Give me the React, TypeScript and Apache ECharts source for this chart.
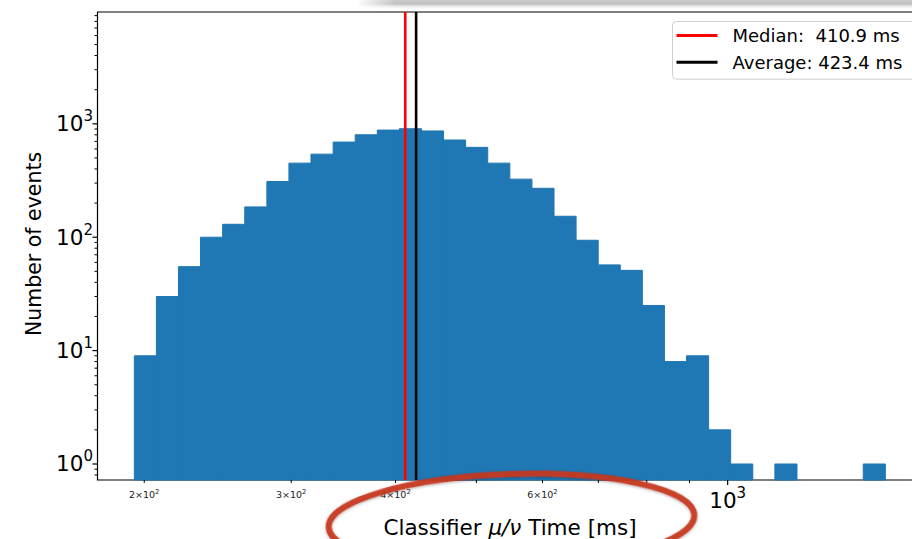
import React, { useEffect, useRef } from "react";
import * as echarts from "echarts";

// ---------- data ----------
const binEdges = [
  194.6, 206.8, 219.8, 233.6, 248.3, 263.9, 280.5, 298.1, 316.8, 336.8,
  357.9, 380.4, 404.3, 429.7, 456.7, 485.4, 515.9, 548.3, 582.8, 619.4,
  658.3, 699.7, 743.6, 790.3, 840.0, 892.8, 948.9, 1008.4, 1071.8, 1139.2,
  1210.8, 1286.9, 1367.7, 1453.7, 1545.0,
];
const binCounts = [
  9, 30, 55, 100, 130, 185, 310, 450, 540, 690,
  800, 880, 905, 865, 720, 620, 450, 325, 270, 153,
  94, 57, 51, 25, 8, 9, 2, 1, 0, 1,
  0, 0, 0, 1,
];
const medianValue = 410.9;
const averageValue = 423.4;
const legendLabels = ["Median:  410.9 ms", "Average: 423.4 ms"];

const xMajorTicks = [1000];
const xMajorExp = ["3"];
const xMinorTicks = [200, 300, 400, 500, 600, 700, 800, 900];
const xMinorLabeled = [200, 300, 400, 600];
const xMinorMantissa = ["2", "3", "4", "6"];

const yMajorTicks = [1, 10, 100, 1000];
const yMajorExp = ["0", "1", "2", "3"];
const yMinorTicks = [
  0.8, 0.9,
  2, 3, 4, 5, 6, 7, 8, 9,
  20, 30, 40, 50, 60, 70, 80, 90,
  200, 300, 400, 500, 600, 700, 800, 900,
  2000, 3000, 4000, 5000, 6000, 7000, 8000, 9000,
];

const xAxisTitle = ["Classifier ", "μ/ν", " Time [ms]"];
const yAxisTitle = "Number of events";

// axis limits
const X_MIN = 175.8;
const X_MAX = 1711.8;
const Y_MIN = 0.7226;
const Y_MAX = 9683;

const FONT = "DejaVu Sans";
const BAR = "#1f77b4";

export default function App() {
  const ref = useRef<HTMLDivElement>(null);

  useEffect(() => {
    if (!ref.current) return;
    const chart = echarts.init(ref.current, undefined, { renderer: "svg" });

    const histData = binCounts
      .map((c, i) => [binEdges[i], binEdges[i + 1], c])
      .filter((d) => d[2] > 0);

    const xTickItems = [
      ...xMajorTicks.map((v, i) => ({ v, major: true, text: `{b|10}{s|${xMajorExp[i]}}` })),
      ...xMinorTicks.map((v) => {
        const k = xMinorLabeled.indexOf(v);
        return { v, major: false, text: k >= 0 ? `{mb|${xMinorMantissa[k]}×10}{ms|2}` : "" };
      }),
    ];
    const yTickItems = [
      ...yMajorTicks.map((v, i) => ({ v, major: true, text: `{b|10}{s|${yMajorExp[i]}}` })),
      ...yMinorTicks.map((v) => ({ v, major: false, text: "" })),
    ];

    const rich = {
      b: { fontSize: 21.5, fontFamily: FONT, lineHeight: 30, fill: "#000", color: "#000" },
      s: { fontSize: 15, fontFamily: FONT, lineHeight: 15, verticalAlign: "top", fill: "#000", color: "#000" },
      mb: { fontSize: 9.5, fontFamily: FONT, lineHeight: 12, fill: "#222", color: "#222" },
      ms: { fontSize: 6.8, fontFamily: FONT, lineHeight: 6.8, verticalAlign: "top", fill: "#222", color: "#222" },
    };

    const option: any = {
      animation: false,
      backgroundColor: "#ffffff",
      grid: {
        left: 97.5,
        top: 12,
        width: 825,
        height: 468,
        show: true,
        borderColor: "#000",
        borderWidth: 1.2,
        backgroundColor: "transparent",
        containLabel: false,
      },
      xAxis: {
        type: "log",
        logBase: 10,
        min: X_MIN,
        max: X_MAX,
        axisLine: { show: false },
        axisTick: { show: false },
        axisLabel: { show: false },
        splitLine: { show: false },
        minorTick: { show: false },
      },
      yAxis: {
        type: "log",
        logBase: 10,
        min: Y_MIN,
        max: Y_MAX,
        axisLine: { show: false },
        axisTick: { show: false },
        axisLabel: { show: false },
        splitLine: { show: false },
        minorTick: { show: false },
      },
      legend: {
        show: true,
        data: legendLabels,
        orient: "vertical",
        left: 672.5,
        top: 21.5,
        icon: "rect",
        itemWidth: 41,
        itemHeight: 3,
        itemGap: 6.7,
        padding: [4, 18, 7, 4],
        backgroundColor: "#ffffff",
        borderColor: "#d0d0d0",
        borderWidth: 1,
        borderRadius: 4,
        selectedMode: false,
        textStyle: {
          fontFamily: FONT,
          fontSize: 18,
          color: "#000",
          lineHeight: 20,
          padding: [0, 0, 0, 10],
        },
      },
      series: [
        {
          type: "custom",
          name: "hist",
          z: 2,
          encode: { x: [0, 1], y: 2 },
          data: histData,
          renderItem: (params: any, api: any) => {
            const a = api.coord([api.value(0), api.value(2)]);
            const b = api.coord([api.value(1), Y_MIN]);
            return {
              type: "rect",
              shape: { x: a[0], y: a[1], width: b[0] - a[0], height: b[1] - a[1] },
              style: { fill: BAR, stroke: BAR, lineWidth: 1 },
            };
          },
        },
        {
          type: "line",
          name: legendLabels[0],
          z: 3,
          showSymbol: false,
          symbol: "none",
          data: [[medianValue, Y_MIN], [medianValue, Y_MAX]],
          lineStyle: { color: "#ff0000", width: 2.6 },
          itemStyle: { color: "#ff0000" },
        },
        {
          type: "line",
          name: legendLabels[1],
          z: 3,
          showSymbol: false,
          symbol: "none",
          data: [[averageValue, Y_MIN], [averageValue, Y_MAX]],
          lineStyle: { color: "#000000", width: 2.6 },
          itemStyle: { color: "#000000" },
        },
        {
          type: "custom",
          name: "xticks",
          z: 5,
          encode: { x: 0, y: 1 },
          data: xTickItems.map((it) => [it.v, Y_MIN]),
          renderItem: (params: any, api: any) => {
            const it = xTickItems[params.dataIndex];
            const p = api.coord([it.v, Y_MIN]);
            const len = it.major ? 5 : 3;
            const children: any[] = [
              {
                type: "line",
                shape: { x1: p[0], y1: p[1], x2: p[0], y2: p[1] + len },
                style: { stroke: "#000", lineWidth: it.major ? 1.2 : 1 },
              },
            ];
            if (it.text) {
              children.push({
                type: "text",
                x: p[0],
                y: p[1] + (it.major ? 20 : 14),
                style: {
                  text: it.text,
                  rich,
                  align: "center",
                  verticalAlign: "middle",
                  fill: "#000",
                  fontFamily: FONT,
                },
              });
            }
            return { type: "group", children };
          },
        },
        {
          type: "custom",
          name: "yticks",
          z: 5,
          encode: { x: 0, y: 1 },
          data: yTickItems.map((it) => [X_MIN, it.v]),
          renderItem: (params: any, api: any) => {
            const it = yTickItems[params.dataIndex];
            const p = api.coord([X_MIN, it.v]);
            const len = it.major ? 5 : 3;
            const children: any[] = [
              {
                type: "line",
                shape: { x1: p[0] - len, y1: p[1], x2: p[0], y2: p[1] },
                style: { stroke: "#000", lineWidth: it.major ? 1.2 : 1 },
              },
            ];
            if (it.text) {
              children.push({
                type: "text",
                x: p[0] - 4.5,
                y: p[1],
                style: {
                  text: it.text,
                  rich,
                  align: "right",
                  verticalAlign: "middle",
                  fill: "#000",
                  fontFamily: FONT,
                },
              });
            }
            return { type: "group", children };
          },
        },
      ],
      graphic: [
        {
          type: "text",
          z: 50,
          x: 34,
          y: 244,
          rotation: Math.PI / 2,
          style: {
            text: yAxisTitle,
            fontFamily: FONT,
            fontSize: 20.5,
            fill: "#000",
            align: "center",
            verticalAlign: "middle",
          },
        },
        {
          type: "text",
          z: 50,
          x: 510,
          y: 527,
          style: {
            text: `{n|${xAxisTitle[0]}}{i|${xAxisTitle[1]}}{n|${xAxisTitle[2]}}`,
            rich: {
              n: { fontFamily: FONT, fontSize: 21.5, fill: "#000", color: "#000" },
              i: { fontFamily: FONT, fontSize: 21.5, fontStyle: "italic", fill: "#000", color: "#000" },
            },
            align: "center",
            verticalAlign: "middle",
          },
        },
        {
          type: "rect",
          z: 60,
          shape: { x: 358, y: 0, width: 600, height: 10 },
          style: {
            fill: new echarts.graphic.LinearGradient(0, 0, 0, 1, [
              { offset: 0, color: "rgba(160,160,160,0.55)" },
              { offset: 0.4, color: "rgba(150,150,150,0.6)" },
              { offset: 1, color: "rgba(255,255,255,0)" },
            ]),
          },
        },
        {
          type: "rect",
          z: 61,
          shape: { x: 356, y: 0, width: 40, height: 10 },
          style: {
            fill: new echarts.graphic.LinearGradient(0, 0, 1, 0, [
              { offset: 0, color: "rgba(255,255,255,1)" },
              { offset: 1, color: "rgba(255,255,255,0)" },
            ]),
          },
        },
        {
          type: "ellipse",
          z: 100,
          x: 511.5,
          y: 521,
          rotation: 0.033,
          shape: { cx: 0, cy: 0, rx: 183, ry: 47 },
          style: {
            fill: "none",
            stroke: "#c8361f",
            lineWidth: 6,
            opacity: 0.92,
            shadowBlur: 3,
            shadowColor: "rgba(0,0,0,0.35)",
            shadowOffsetY: 1,
          },
        },
      ],
    };

    chart.setOption(option);
    return () => chart.dispose();
  }, []);

  return (
    <div
      style={{ position: "fixed", left: 0, top: 0, width: 912, height: 539, overflow: "hidden" }}
    >
      <div ref={ref} style={{ width: 950, height: 539 }} />
    </div>
  );
}
